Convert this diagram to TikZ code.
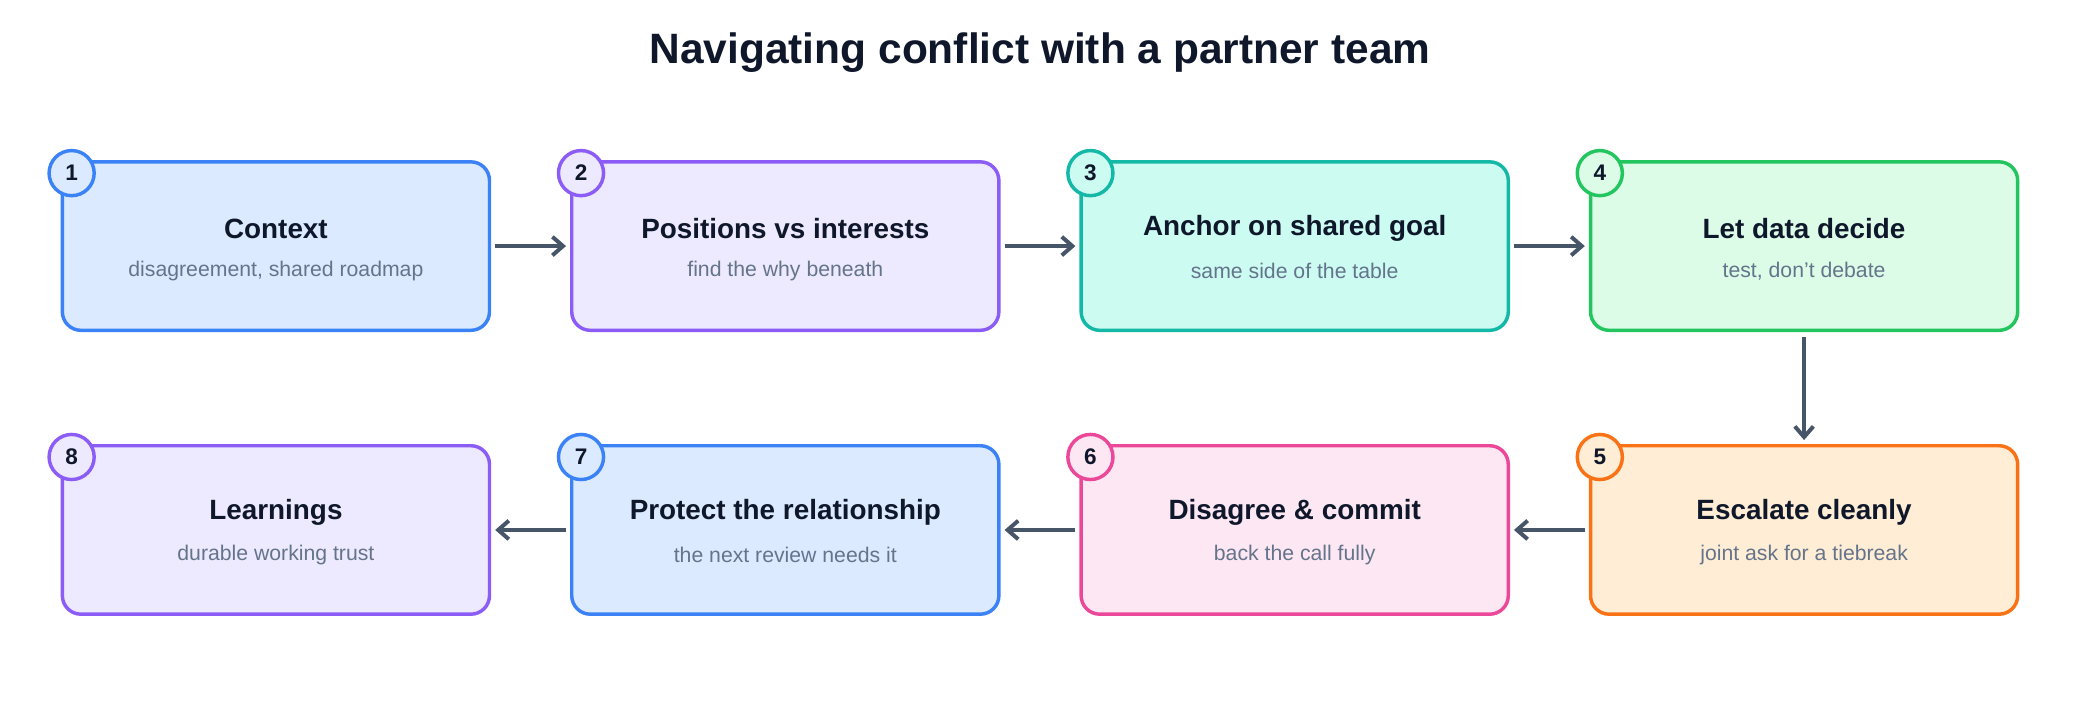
\documentclass[tikz,border=0pt]{standalone}
\usepackage{fontspec}
\setmainfont{Liberation Sans}
\usetikzlibrary{arrows.meta}
\definecolor{bB}{HTML}{3B82F6}\definecolor{fB}{HTML}{DBEAFE}
\definecolor{bP}{HTML}{8B5CF6}\definecolor{fP}{HTML}{EDE9FE}
\definecolor{bT}{HTML}{14B8A6}\definecolor{fT}{HTML}{CCFBF1}
\definecolor{bG}{HTML}{22C55E}\definecolor{fG}{HTML}{DCFCE7}
\definecolor{bO}{HTML}{F97316}\definecolor{fO}{HTML}{FFEDD5}
\definecolor{bK}{HTML}{EC4899}\definecolor{fK}{HTML}{FCE7F3}
\definecolor{ink}{HTML}{0F172A}\definecolor{sub}{HTML}{64748B}\definecolor{arr}{HTML}{475569}
\begin{document}
\begin{tikzpicture}[x=1pt,y=-1pt,
  box/.style={draw=#1,line width=2.6pt,rounded corners=14pt,minimum width=322pt,minimum height=127pt,inner sep=0pt},
  badge/.style={circle,draw=#1,line width=2.6pt,minimum size=34pt,inner sep=0pt,font=\fontsize{17}{17}\selectfont\bfseries,text=ink},
  ttl/.style={font=\fontsize{21}{24}\selectfont\bfseries,text=ink},
  sbt/.style={font=\fontsize{16}{19}\selectfont,text=sub},
  conn/.style={draw=arr,line width=3pt,-{Straight Barb[length=8pt,width=14pt]},shorten >=3pt,shorten <=3pt}]
\useasboundingbox (0,0) rectangle (1568,531);
\fill[white] (0,0) rectangle (1568,531);
\node[font=\fontsize{32}{36}\selectfont\bfseries,text=ink] (title) at (784,40) {Navigating conflict with a partner team};
\def\mk#1#2#3#4#5#6#7{%
  \node[box=b#4,fill=f#4] (n#1) at (#2,#3) {};
  \node[ttl] (t#1) at (#2,#3-13) {#5};
  \node[sbt] (s#1) at (#2,#3+19) {#6};
  \node[badge=b#4,fill=f#4] (b#1) at (#2-154,#3-55) {#1};}
\mk{1}{208}{185.5}{B}{Context}{disagreement, shared roadmap}{}
\mk{2}{592}{185.5}{P}{Positions vs interests}{find the why beneath}{}
\mk{3}{976}{185.5}{T}{Anchor on shared goal}{same side of the table}{}
\mk{4}{1360}{185.5}{G}{Let data decide}{test, don't debate}{}
\mk{5}{1360}{399.5}{O}{Escalate cleanly}{joint ask for a tiebreak}{}
\mk{6}{976}{399.5}{K}{Disagree \& commit}{back the call fully}{}
\mk{7}{592}{399.5}{B}{Protect the relationship}{the next review needs it}{}
\mk{8}{208}{399.5}{P}{Learnings}{durable working trust}{}
\draw[conn] (n1.east) -- (n2.west);
\draw[conn] (n2.east) -- (n3.west);
\draw[conn] (n3.east) -- (n4.west);
\draw[conn,shorten <=4pt] (n4.south) -- (n5.north);
\draw[conn] (n5.west) -- (n6.east);
\draw[conn] (n6.west) -- (n7.east);
\draw[conn] (n7.west) -- (n8.east);
\end{tikzpicture}
\end{document}
